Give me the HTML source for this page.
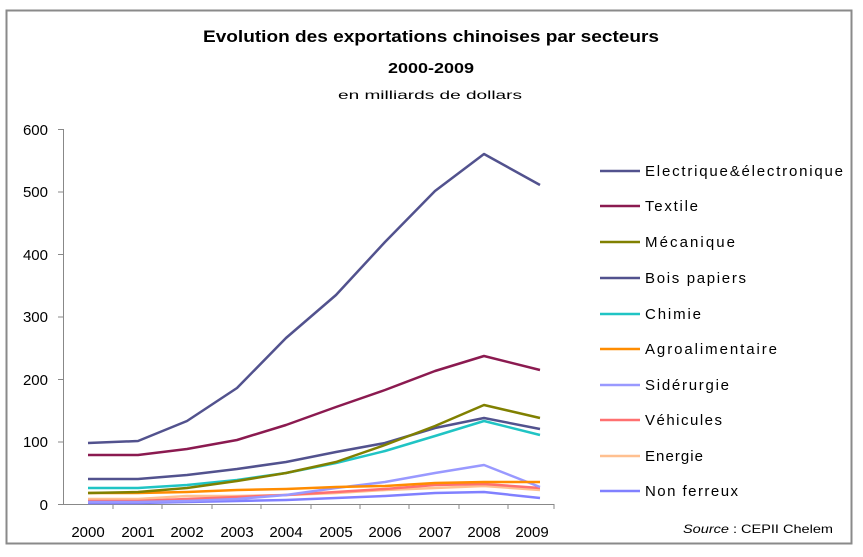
<!DOCTYPE html>
<html><head><meta charset="utf-8"><style>
html,body{margin:0;padding:0;background:#fff;}
svg{display:block;font-family:"Liberation Sans",sans-serif;}
</style></head><body>
<svg width="863" height="557" viewBox="0 0 863 557" xmlns="http://www.w3.org/2000/svg">
<rect x="0" y="0" width="863" height="557" fill="#fff"/>
<rect x="6.5" y="10.5" width="845" height="533" fill="#fff" stroke="#8a8a8a" stroke-width="2"/>
<text x="431" y="42" text-anchor="middle" font-size="17" font-weight="bold" fill="#000" textLength="456" lengthAdjust="spacingAndGlyphs">Evolution des exportations chinoises par secteurs</text>
<text x="431" y="73" text-anchor="middle" font-size="15" font-weight="bold" fill="#000" textLength="86" lengthAdjust="spacingAndGlyphs">2000-2009</text>
<text x="430" y="99" text-anchor="middle" font-size="12" fill="#000" textLength="184" lengthAdjust="spacingAndGlyphs">en milliards de dollars</text>
<g font-size="15" fill="#000" text-anchor="end">
<text x="48" y="135">600</text><text x="48" y="197">500</text><text x="48" y="260">400</text><text x="48" y="322">300</text><text x="48" y="385">200</text><text x="48" y="447">100</text><text x="48" y="510">0</text>
</g>
<g stroke="#888" stroke-width="1">
<line x1="63.5" y1="129" x2="63.5" y2="504"/>
<line x1="63" y1="504.5" x2="554" y2="504.5"/>
<line x1="58" y1="129.5" x2="63" y2="129.5"/><line x1="58" y1="192" x2="63" y2="192"/><line x1="58" y1="254.5" x2="63" y2="254.5"/><line x1="58" y1="317" x2="63" y2="317"/><line x1="58" y1="379.5" x2="63" y2="379.5"/><line x1="58" y1="442" x2="63" y2="442"/><line x1="58" y1="504.5" x2="63" y2="504.5"/>
<path d="M113 504v5M162 504v5M212 504v5M261 504v5M311 504v5M360 504v5M409 504v5M459 504v5M508 504v5M554 504v5"/>
</g>
<g font-size="15" fill="#000" text-anchor="middle">
<text x="88" y="537">2000</text><text x="138" y="537">2001</text><text x="187" y="537">2002</text><text x="237" y="537">2003</text><text x="286" y="537">2004</text><text x="336" y="537">2005</text><text x="385" y="537">2006</text><text x="435" y="537">2007</text><text x="484" y="537">2008</text><text x="532" y="537">2009</text>
</g>
<g fill="none" stroke-width="2.5" stroke-linejoin="round">
<polyline stroke="#8080ff" points="88,503 138,503 187,502 237,501 286,500 336,498 385,496 435,493 484,492 540,498"/>
<polyline stroke="#ffc090" points="88,499 138,499 187,496 237,496 286,495 336,493 385,490 435,488 484,486 540,490"/>
<polyline stroke="#ff7070" points="88,501 138,501 187,499 237,497 286,495 336,492 385,489 435,485 484,484 540,488"/>
<polyline stroke="#9999ff" points="88,502 138,502 187,501 237,499 286,495 336,488 385,482 435,473 484,465 540,487"/>
<polyline stroke="#ff8c00" points="88,493 138,493 187,492 237,490 286,489 336,487 385,486 435,483 484,482 540,482"/>
<polyline stroke="#20c4c4" points="88,488 138,488 187,485 237,480 286,473 336,463 385,451 435,436 484,421 540,435"/>
<polyline stroke="#52528e" points="88,479 138,479 187,475 237,469 286,462 336,452 385,443 435,428 484,418 540,429"/>
<polyline stroke="#808000" points="88,493 138,492 187,488 237,481 286,473 336,462 385,445 435,426 484,405 540,418"/>
<polyline stroke="#8b1a50" points="88,455 138,455 187,449 237,440 286,425 336,407 385,390 435,371 484,356 540,370"/>
<polyline stroke="#52528e" points="88,443 138,441 187,421 237,388 286,338 336,295 385,242 435,191 484,154 540,185"/>
</g>
<g stroke-width="2.5">
<line x1="600" x2="640" y1="171" y2="171" stroke="#52528e"/>
<line x1="600" x2="640" y1="206" y2="206" stroke="#8b1a50"/>
<line x1="600" x2="640" y1="242" y2="242" stroke="#808000"/>
<line x1="600" x2="640" y1="278" y2="278" stroke="#52528e"/>
<line x1="600" x2="640" y1="314" y2="314" stroke="#20c4c4"/>
<line x1="600" x2="640" y1="349" y2="349" stroke="#ff8c00"/>
<line x1="600" x2="640" y1="385" y2="385" stroke="#9999ff"/>
<line x1="600" x2="640" y1="420" y2="420" stroke="#ff7070"/>
<line x1="600" x2="640" y1="456" y2="456" stroke="#ffc090"/>
<line x1="600" x2="640" y1="491" y2="491" stroke="#8080ff"/>
</g>
<g font-size="15" fill="#000" lengthAdjust="spacing">
<text x="645" y="176" textLength="198">Electrique&amp;électronique</text>
<text x="645" y="211" textLength="53">Textile</text>
<text x="645" y="247" textLength="90">Mécanique</text>
<text x="645" y="283" textLength="101">Bois papiers</text>
<text x="645" y="319" textLength="56">Chimie</text>
<text x="645" y="354" textLength="132">Agroalimentaire</text>
<text x="645" y="390" textLength="84">Sidérurgie</text>
<text x="645" y="425" textLength="77">Véhicules</text>
<text x="645" y="461" textLength="58">Energie</text>
<text x="645" y="496" textLength="93">Non ferreux</text>
</g>
<text x="683" y="533" font-size="12" fill="#000" textLength="150" lengthAdjust="spacingAndGlyphs"><tspan font-style="italic">Source</tspan> : CEPII Chelem</text>
</svg>
</body></html>
